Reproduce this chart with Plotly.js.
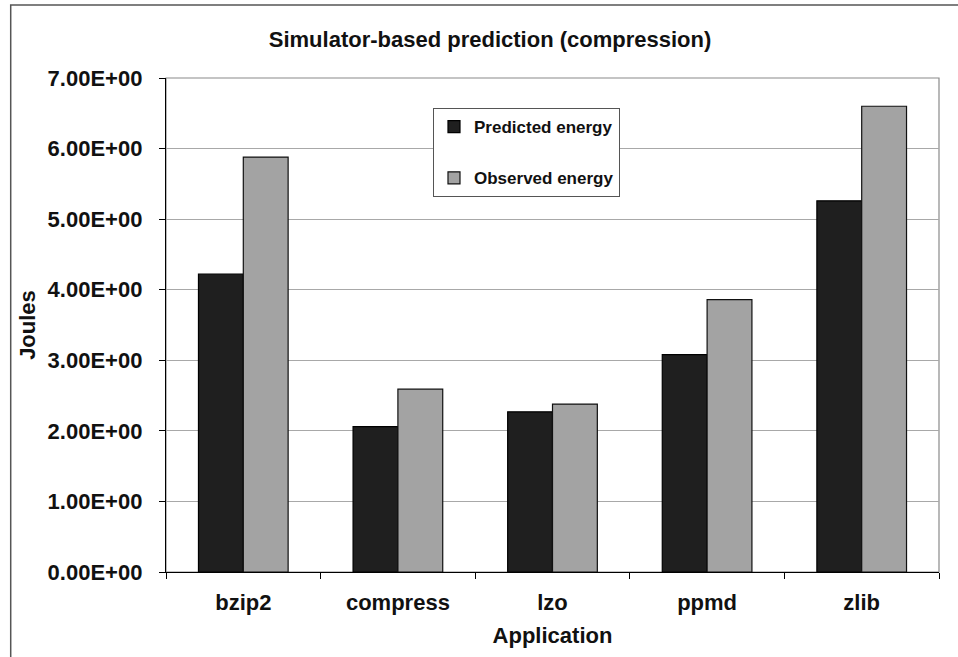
<!DOCTYPE html>
<html>
<head>
<meta charset="utf-8">
<script src="https://cdn.plot.ly/plotly-3.0.1.min.js"></script>
<style>
  html, body { margin: 0; padding: 0; background: #ffffff; }
  #chart { width: 958px; height: 657px; }
</style>
</head>
<body>
<div id="chart"></div>
<script>
// Energy per compression application, in joules
const applications = ["bzip2", "compress", "lzo", "ppmd", "zlib"];
const predictedEnergy = [4.22, 2.06, 2.27, 3.08, 5.26];
const observedEnergy = [5.88, 2.59, 2.38, 3.86, 6.60];

const yTickValues = [0, 1, 2, 3, 4, 5, 6, 7];
const yTickLabels = ["0.00E+00", "1.00E+00", "2.00E+00", "3.00E+00",
                     "4.00E+00", "5.00E+00", "6.00E+00", "7.00E+00"];

const FONT = "Liberation Sans, Arial, Helvetica, sans-serif";

const traces = [
  {
    type: "bar",
    name: "Predicted energy",
    x: applications,
    y: predictedEnergy,
    legendgroup: "p",
    marker: { color: "#1f1f1f", line: { color: "#000000", width: 1.2 } },
    hoverinfo: "x+y"
  },
  {
    type: "bar",
    name: "Observed energy",
    x: applications,
    y: observedEnergy,
    legendgroup: "o",
    marker: { color: "#a3a3a3", line: { color: "#111111", width: 1.2 } },
    hoverinfo: "x+y"
  }
];

const layout = {
  width: 958,
  height: 657,
  margin: { l: 166, r: 19, t: 78, b: 85, pad: 0 },
  paper_bgcolor: "#ffffff",
  plot_bgcolor: "#ffffff",
  barmode: "group",
  bargap: 0.42,
  bargroupgap: 0,
  font: { family: FONT, size: 22, color: "#111111", weight: "bold" },
  title: {
    text: "Simulator-based prediction (compression)",
    font: { family: FONT, size: 22, color: "#111111", weight: "bold" },
    xref: "container",
    x: 0.5115,
    xanchor: "center",
    yref: "container",
    y: 0.94,
    yanchor: "middle"
  },
  xaxis: {
    type: "category",
    categoryorder: "array",
    categoryarray: applications,
    showline: true,
    linecolor: "#000000",
    linewidth: 1.2,
    ticks: "outside",
    tickson: "boundaries",
    ticklen: 6,
    tickcolor: "#000000",
    tickwidth: 1,
    ticklabelstandoff: 10,
    tickfont: { family: FONT, size: 22, color: "#111111", weight: "bold" },
    showgrid: false,
    zeroline: false,
    title: {
      text: "Application",
      font: { family: FONT, size: 22, color: "#111111", weight: "bold" },
      standoff: 14
    }
  },
  yaxis: {
    range: [0, 7],
    tickmode: "array",
    tickvals: yTickValues,
    ticktext: yTickLabels,
    showline: true,
    linecolor: "#000000",
    linewidth: 1.2,
    ticks: "outside",
    ticklen: 6,
    tickcolor: "#000000",
    tickwidth: 1,
    ticklabelstandoff: 12,
    tickfont: { family: FONT, size: 22, color: "#111111", weight: "bold" },
    showgrid: true,
    gridcolor: "#a8a8a8",
    gridwidth: 1,
    zeroline: false,
    title: {
      text: "Joules",
      font: { family: FONT, size: 22, color: "#111111", weight: "bold" },
      standoff: 5
    }
  },
  legend: {
    x: 0.3454,
    y: 0.939,
    xanchor: "left",
    yanchor: "top",
    bgcolor: "#ffffff",
    bordercolor: "#555555",
    borderwidth: 1,
    traceorder: "grouped",
    tracegroupgap: 26,
    font: { family: FONT, size: 17, color: "#111111", weight: "bold" }
  },
  shapes: [
    // plot-area frame (grey top and right edges)
    {
      type: "rect", xref: "paper", yref: "paper",
      x0: 0, x1: 1, y0: 0, y1: 1,
      line: { color: "#8a8a8a", width: 1.2 },
      layer: "below"
    },
    // outer chart frame
    {
      type: "rect", xref: "paper", yref: "paper",
      x0: -0.2009, x1: 1.06, y0: -0.18, y1: 1.1478,
      line: { color: "#555555", width: 1.5 },
      layer: "below"
    }
  ],
  showlegend: true
};

Plotly.newPlot("chart", traces, layout, { displayModeBar: false, staticPlot: true });
</script>
</body>
</html>
